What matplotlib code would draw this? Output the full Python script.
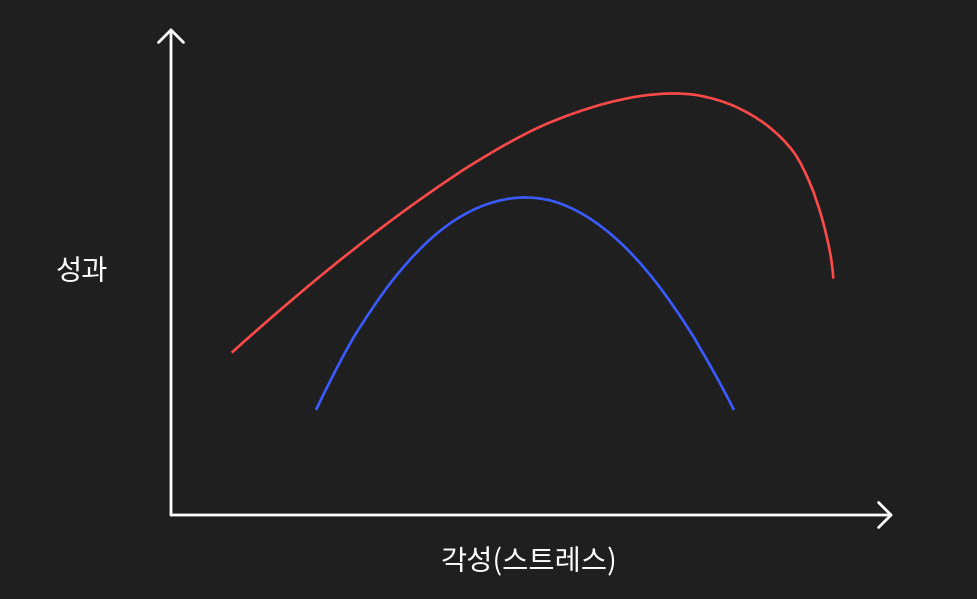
import matplotlib
matplotlib.use("Agg")
import matplotlib.pyplot as plt
from matplotlib.path import Path
from matplotlib.patches import PathPatch
import numpy as np

plt.rcParams['font.family'] = ['Noto Sans CJK KR', 'DejaVu Sans']

# Data (arbitrary units; x axis 0..722, y axis 0..487)
red_x = [60.7, 87.3, 120.7, 154.0, 187.3, 220.7, 254.0, 284.0, 302.3, 335.7, 369.0, 402.3,
         435.7, 469.0, 501.0, 529.0, 562.3, 595.7, 622.3, 639.0, 650.7, 659.0, 662.3]
red_y = [162.3, 186.0, 214.9, 242.7, 269.3, 294.9, 319.0, 339.6, 351.4, 371.1, 388.2, 401.5,
         411.9, 418.9, 421.5, 419.3, 409.3, 389.9, 363.3, 331.6, 297.7, 262.8, 236.4]

blue_x = [145.0, 169.0, 187.3, 220.7, 254.0, 284.0, 315.7, 349.0, 382.0, 415.0, 449.0,
          482.3, 515.7, 542.3, 563.0]
blue_y = [105.0, 153.0, 185.2, 233.6, 270.9, 294.9, 310.7, 317.4, 313.8, 298.9, 272.7,
          236.1, 189.0, 143.8, 105.0]

x_label = "각성(스트레스)"
y_label = "성과"

BG = "#1f1f1f"
W, H = 977, 599


def smooth_path(xs, ys):
    """Smooth curve through the points (chord-length Hermite -> cubic Bezier)."""
    p = np.column_stack([xs, ys]).astype(float)
    n = len(p)
    d = np.hypot(*np.diff(p, axis=0).T)
    t = np.concatenate([[0], np.cumsum(d)])
    m = np.zeros_like(p)
    for i in range(1, n - 1):
        m[i] = (p[i + 1] - p[i - 1]) / (t[i + 1] - t[i - 1])
    m[0] = 2 * (p[1] - p[0]) / (t[1] - t[0]) - m[1]
    m[-1] = 2 * (p[-1] - p[-2]) / (t[-1] - t[-2]) - m[-2]
    verts = [p[0]]
    codes = [Path.MOVETO]
    for i in range(n - 1):
        h = t[i + 1] - t[i]
        verts += [p[i] + m[i] * h / 3, p[i + 1] - m[i + 1] * h / 3, p[i + 1]]
        codes += [Path.CURVE4] * 3
    return Path(verts, codes)


fig = plt.figure(figsize=(W / 100, H / 100), dpi=100, facecolor=BG)
x0, y0, x1, y1 = 171, 515, 893, 28
ax = fig.add_axes([x0 / W, 1 - y0 / H, (x1 - x0) / W, (y0 - y1) / H])
ax.set_facecolor(BG)
ax.set_xlim(0, 722)
ax.set_ylim(0, 487)
ax.axis('off')

for xs, ys, col in [(red_x, red_y, "#ff4a4a"), (blue_x, blue_y, "#3a5bff")]:
    patch = PathPatch(smooth_path(xs, ys), facecolor='none', edgecolor=col, lw=1.9,
                      capstyle='butt', clip_on=False)
    ax.add_patch(patch)

arrow = dict(arrowstyle='->,head_length=0.45,head_width=0.45', lw=2.0, color='white',
             shrinkA=0, shrinkB=0, mutation_scale=20)
ax.annotate('', xy=(0, 487), xytext=(0, 0), arrowprops=arrow, annotation_clip=False)
ax.annotate('', xy=(722, 0), xytext=(0, 0), arrowprops=arrow, annotation_clip=False)

fig.text(82 / W, 1 - 272 / H, y_label, color='white', fontsize=20.5, ha='center', va='center')
fig.text(529 / W, 1 - 562 / H, x_label, color='white', fontsize=20.5, ha='center', va='center')

fig.savefig("out.png", dpi=100, facecolor=BG)
